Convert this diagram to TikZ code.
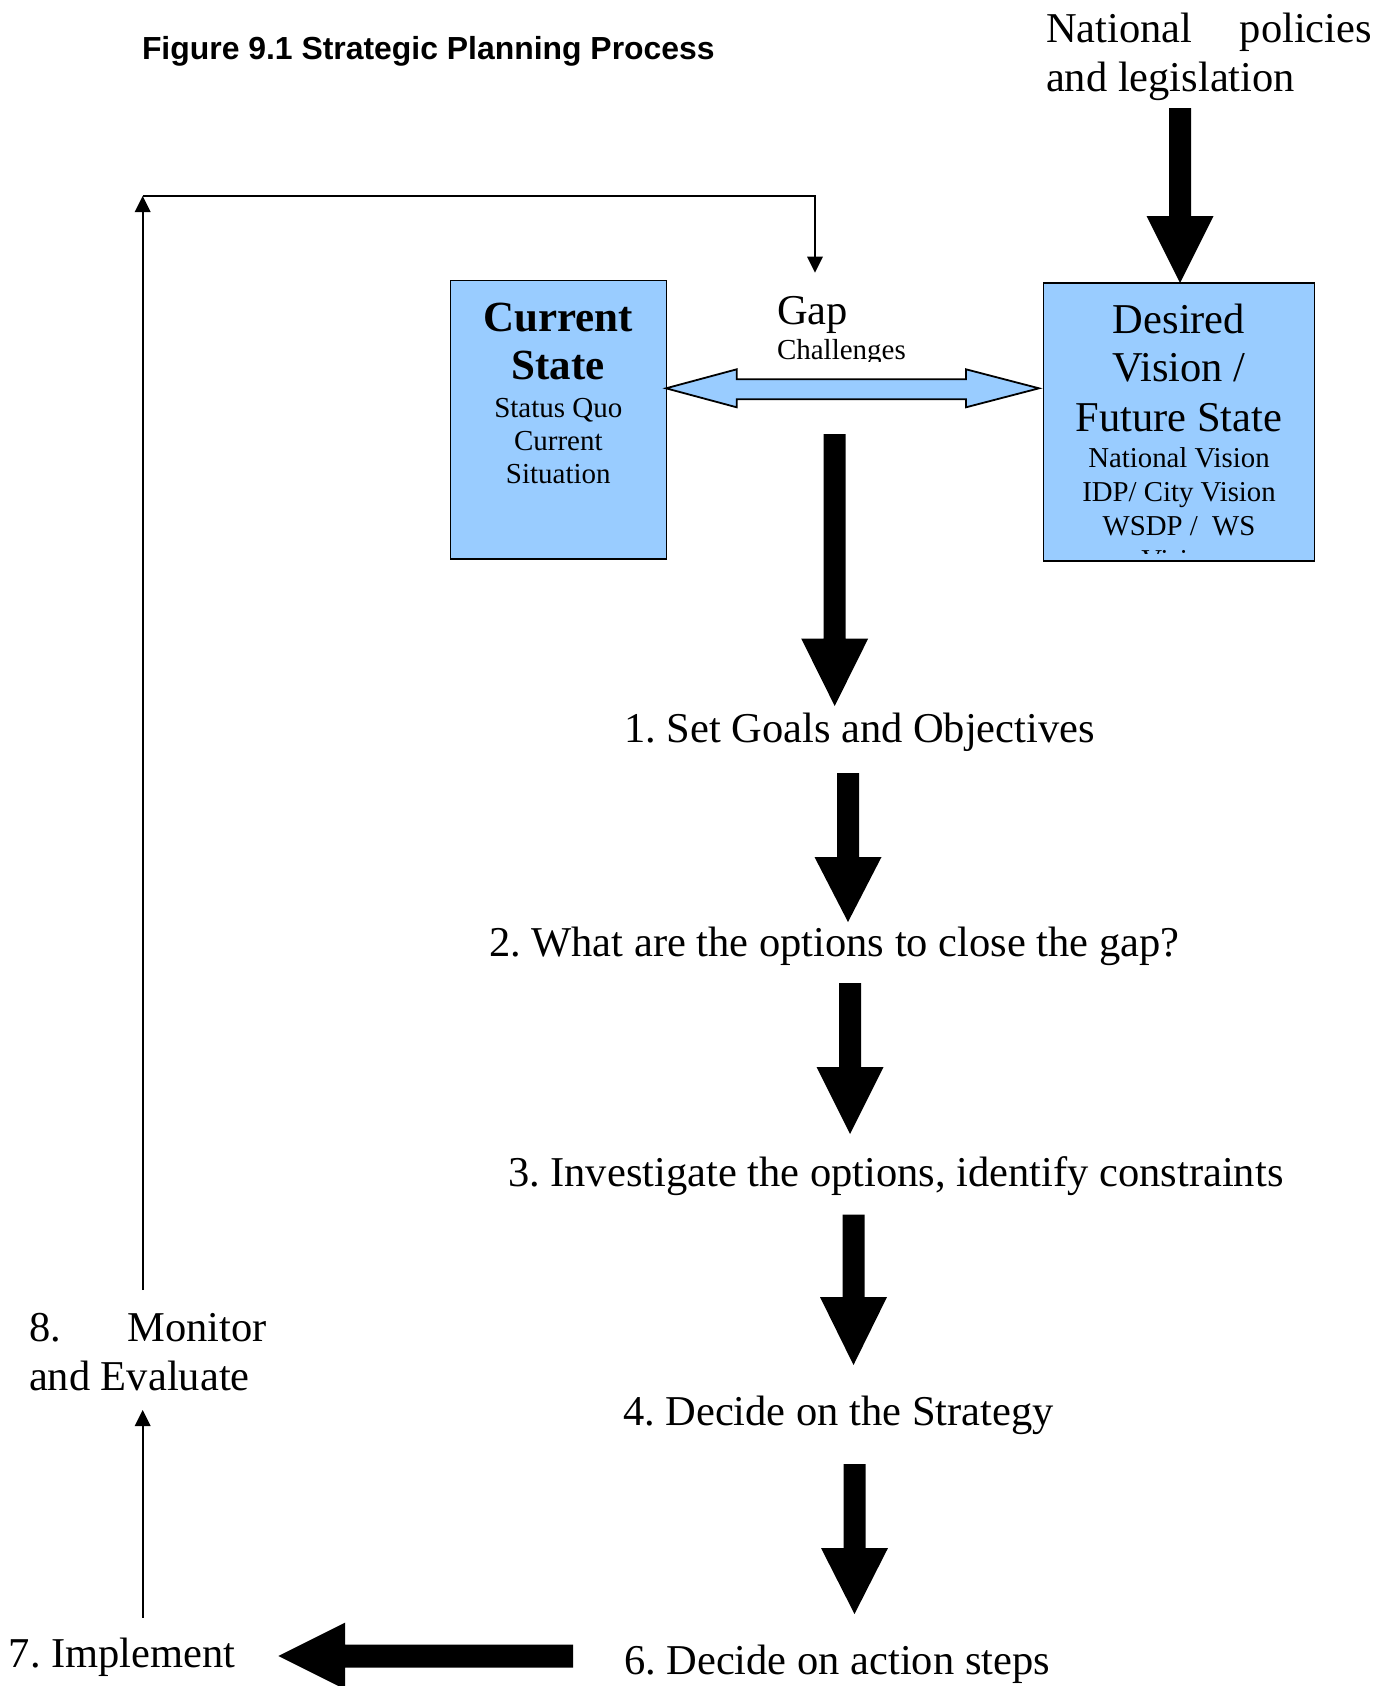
\documentclass[tikz,border=0pt]{standalone}
\usepackage{fontspec}
\setmainfont{Liberation Serif}
\newfontfamily\titlefont{Liberation Sans}
\usetikzlibrary{arrows.meta}
\definecolor{boxblue}{HTML}{99CCFF}
% block arrow pointing down: x, top of shaft, base of head, tip
\newcommand\blkdown[4]{%
  \fill[black] ({#1-11},#2) -- ({#1+11},#2) -- ({#1+11},#3) -- ({#1+33.5},#3)
    -- (#1,#4) -- ({#1-33.5},#3) -- ({#1-11},#3) -- cycle;}
\begin{document}
\frenchspacing
\begin{tikzpicture}[x=1pt,y=-1pt,
  every node/.style={inner sep=0pt,outer sep=0pt},
  big/.style={font=\fontsize{42.5}{48}\selectfont,anchor=base west},
  bigc/.style={font=\fontsize{42.5}{48}\selectfont,anchor=base},
  smallc/.style={font=\fontsize{29}{33}\selectfont,anchor=base},
  boxnode/.style={draw=black,fill=boxblue,line width=1.6pt},
  thinarrow/.style={line width=1.8pt,-{Triangle[length=16pt,width=15.5pt]}},
  dblarrow/.style={draw=black,fill=boxblue,line width=1.8pt,line join=miter}]
\useasboundingbox (0,0) rectangle (1393,1686);
\fill[white] (0,0) rectangle (1393,1686);

% title
\node[font=\titlefont\bfseries\fontsize{31.9}{36}\selectfont,anchor=base west] (title) at (142,59.8) {Figure 9.1 Strategic Planning Process};

% national policies
\node[big] (nat1) at (1046,43) {\makebox[326pt][s]{National policies}};
\node[big] (nat2) at (1046,91.4) {and legislation};

% boxes
\node[boxnode,minimum width=216pt,minimum height=278.4pt] (cur) at (558.3,419.7) {};
\node[boxnode,minimum width=271pt,minimum height=278pt] (des) at (1179,422) {};

% current state text
\node[font=\bfseries\fontsize{43}{48}\selectfont,anchor=base] (cur1) at (558.3,331) {Current};
\node[font=\bfseries\fontsize{43}{48}\selectfont,anchor=base] (cur2) at (558.3,379.4) {State};
\node[smallc] (cur3) at (558.3,417) {Status Quo};
\node[smallc] (cur4) at (558.3,450.3) {Current};
\node[smallc] (cur5) at (558.3,483.6) {Situation};

% desired state text
\node[bigc] (des1) at (1179,333) {Desired};
\node[bigc] (des2) at (1179,381.6) {Vision /};
\node[bigc] (des3) at (1179,431) {Future State};
\node[smallc,font=\fontsize{28.8}{33}\selectfont] (des4) at (1179,467.5) {National Vision};
\node[smallc,font=\fontsize{28.8}{33}\selectfont] (des5) at (1179,501.7) {IDP/ City Vision};
\node[smallc,font=\fontsize{28.8}{33}\selectfont] (des6) at (1179,535) {WSDP /\ \ WS};
\begin{scope}
  \clip (1046,285) rectangle (1312,553);
  \node[smallc,font=\fontsize{28.8}{33}\selectfont] (des7) at (1179,569) {Vision};
\end{scope}

% gap
\node[big] (gap) at (777,324.6) {Gap};
\begin{scope}
  \clip (700,330) rectangle (1000,361);
  \node[font=\fontsize{29}{33}\selectfont,anchor=base west] (chal) at (777,359) {Challenges};
\end{scope}

% double arrow between boxes
\draw[dblarrow] (666,388.3) -- (736.7,369.3) -- (736.7,379.3) -- (966,379.3) -- (966,369.3)
  -- (1039,388.3) -- (966,407.3) -- (966,399.3) -- (736.7,399.3) -- (736.7,407.3) -- cycle;

% steps
\node[big] (s1) at (624,742.7) {1. Set Goals and Objectives};
\node[big] (s2) at (489,956.6) {2. What are the options to close the gap?};
\node[big] (s3) at (508,1186.6) {3. Investigate the options, identify constraints};
\node[big] (s4) at (623,1425) {4. Decide on the Strategy};
\node[big] (s6) at (624,1674.6) {6. Decide on action steps};
\node[big] (s7) at (9,1667) {7. Implement};
\node[big] (s8a) at (29,1341) {\makebox[238pt][s]{8. Monitor}};
\node[big] (s8b) at (29,1390) {and Evaluate};

% block arrows
\blkdown{1180}{108}{216}{283}
\blkdown{834.7}{434}{638.5}{706}
\blkdown{848}{773}{857}{922}
\blkdown{850}{983}{1067}{1134}
\blkdown{853.5}{1214.5}{1297}{1365}
\blkdown{854.5}{1464}{1548}{1614}
\fill[black] (573,1644.7) -- (345,1644.7) -- (345,1622.7) -- (278.3,1656) -- (345,1689.3)
  -- (345,1667.7) -- (573,1667.7) -- cycle;

% thin connectors
\coordinate (corner) at (142.7,196);
\coordinate (gaptip) at (815,272.7);
\coordinate (montop) at (142.7,1290);
\coordinate (impltop) at (142.7,1617.5);
\coordinate (monbot) at (142.7,1410);
\draw[thinarrow] (montop) -- (corner);
\draw[thinarrow] (corner) -| (gaptip);
\draw[thinarrow] (impltop) -- (monbot);
\end{tikzpicture}
\end{document}
